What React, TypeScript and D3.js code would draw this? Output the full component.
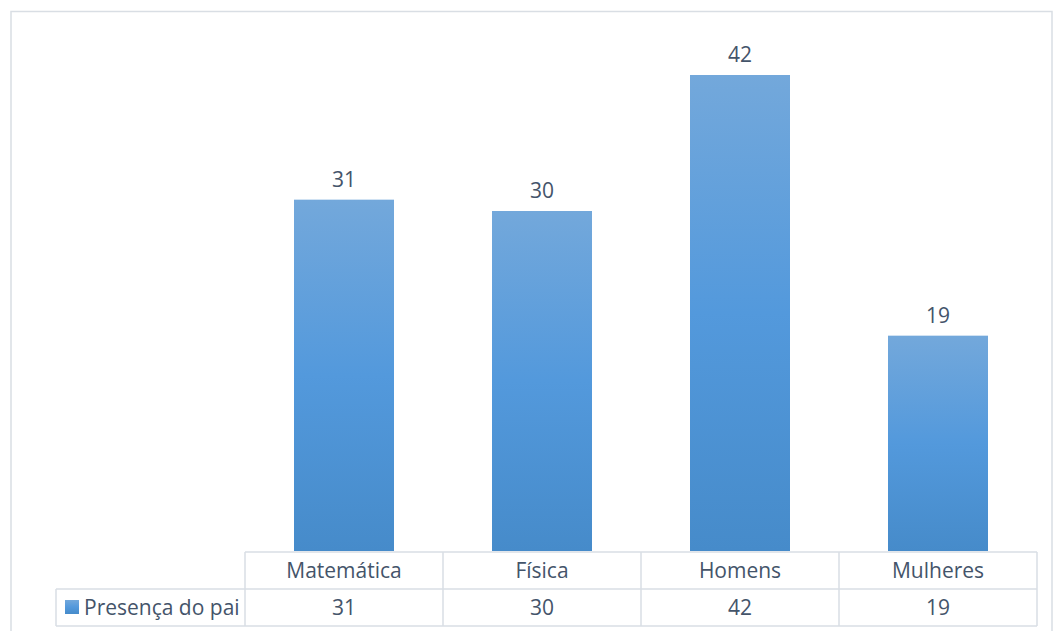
import React from "react";
import * as d3 from "d3";

const categories = ["Matemática", "Física", "Homens", "Mulheres"];
const values = [31, 30, 42, 19];
const seriesName = "Presença do pai";

const W = 1053;
const H = 631;

export default function App() {
  const x = d3.scaleBand<string>().domain(categories).range([245, 1037]).paddingInner(0).paddingOuter(0);
  const y = d3.scaleLinear().domain([0, 45]).range([551, 41]);
  const barW = x.bandwidth() * 0.505;
  const font = "'Open Sans', Lato, sans-serif";
  const fs = 21;
  const textColor = "#44546A";
  const gridColor = "#D9DEE4";
  const rowTop = 552;
  const rowMid = 589;
  const rowBot = 626;
  const legendLeft = 56;

  return (
    <svg width={W} height={H} style={{ position: "absolute", left: 0, top: 0, background: "#fff" }}>
      <defs>
        <linearGradient id="barGrad" x1="0" y1="0" x2="0" y2="1">
          <stop offset="0%" stopColor="#73A8DB" />
          <stop offset="50%" stopColor="#5399DC" />
          <stop offset="100%" stopColor="#468BCA" />
        </linearGradient>
      </defs>
      {/* outer frame */}
      <rect x={11} y={11.5} width={1041} height={700} fill="none" stroke={gridColor} strokeWidth={1.5} />

      {/* bars */}
      {categories.map((c, i) => {
        const cx = (x(c) as number) + x.bandwidth() / 2;
        return (
          <g key={c}>
            <rect x={cx - barW / 2} y={y(values[i])} width={barW} height={y(0) - y(values[i])} fill="url(#barGrad)" />
            <text x={cx} y={y(values[i]) - 13} textAnchor="middle" fontFamily={font} fontSize={fs} fill={textColor}>
              {values[i]}
            </text>
          </g>
        );
      })}

      {/* data table */}
      <g fill="none" stroke={gridColor} strokeWidth={1.5}>
        <line x1={245} x2={1037} y1={rowTop} y2={rowTop} />
        <line x1={legendLeft} x2={1037} y1={rowMid} y2={rowMid} />
        <line x1={legendLeft} x2={1037} y1={rowBot} y2={rowBot} />
        <line x1={legendLeft} x2={legendLeft} y1={rowMid} y2={rowBot} />
        <line x1={245} x2={245} y1={rowTop} y2={rowBot} />
        {categories.map((c) => (
          <line key={c} x1={(x(c) as number) + x.bandwidth()} x2={(x(c) as number) + x.bandwidth()} y1={rowTop} y2={rowBot} />
        ))}
      </g>
      {categories.map((c, i) => {
        const cx = (x(c) as number) + x.bandwidth() / 2;
        return (
          <g key={c}>
            <text x={cx} y={577.5} textAnchor="middle" fontFamily={font} fontSize={fs} fill={textColor}>
              {c}
            </text>
            <text x={cx} y={615} textAnchor="middle" fontFamily={font} fontSize={fs} fill={textColor}>
              {values[i]}
            </text>
          </g>
        );
      })}
      <rect x={65} y={600} width={14} height={14} fill="url(#barGrad)" />
      <text x={84} y={615} fontFamily={font} fontSize={fs} fill={textColor}>
        {seriesName}
      </text>
    </svg>
  );
}
